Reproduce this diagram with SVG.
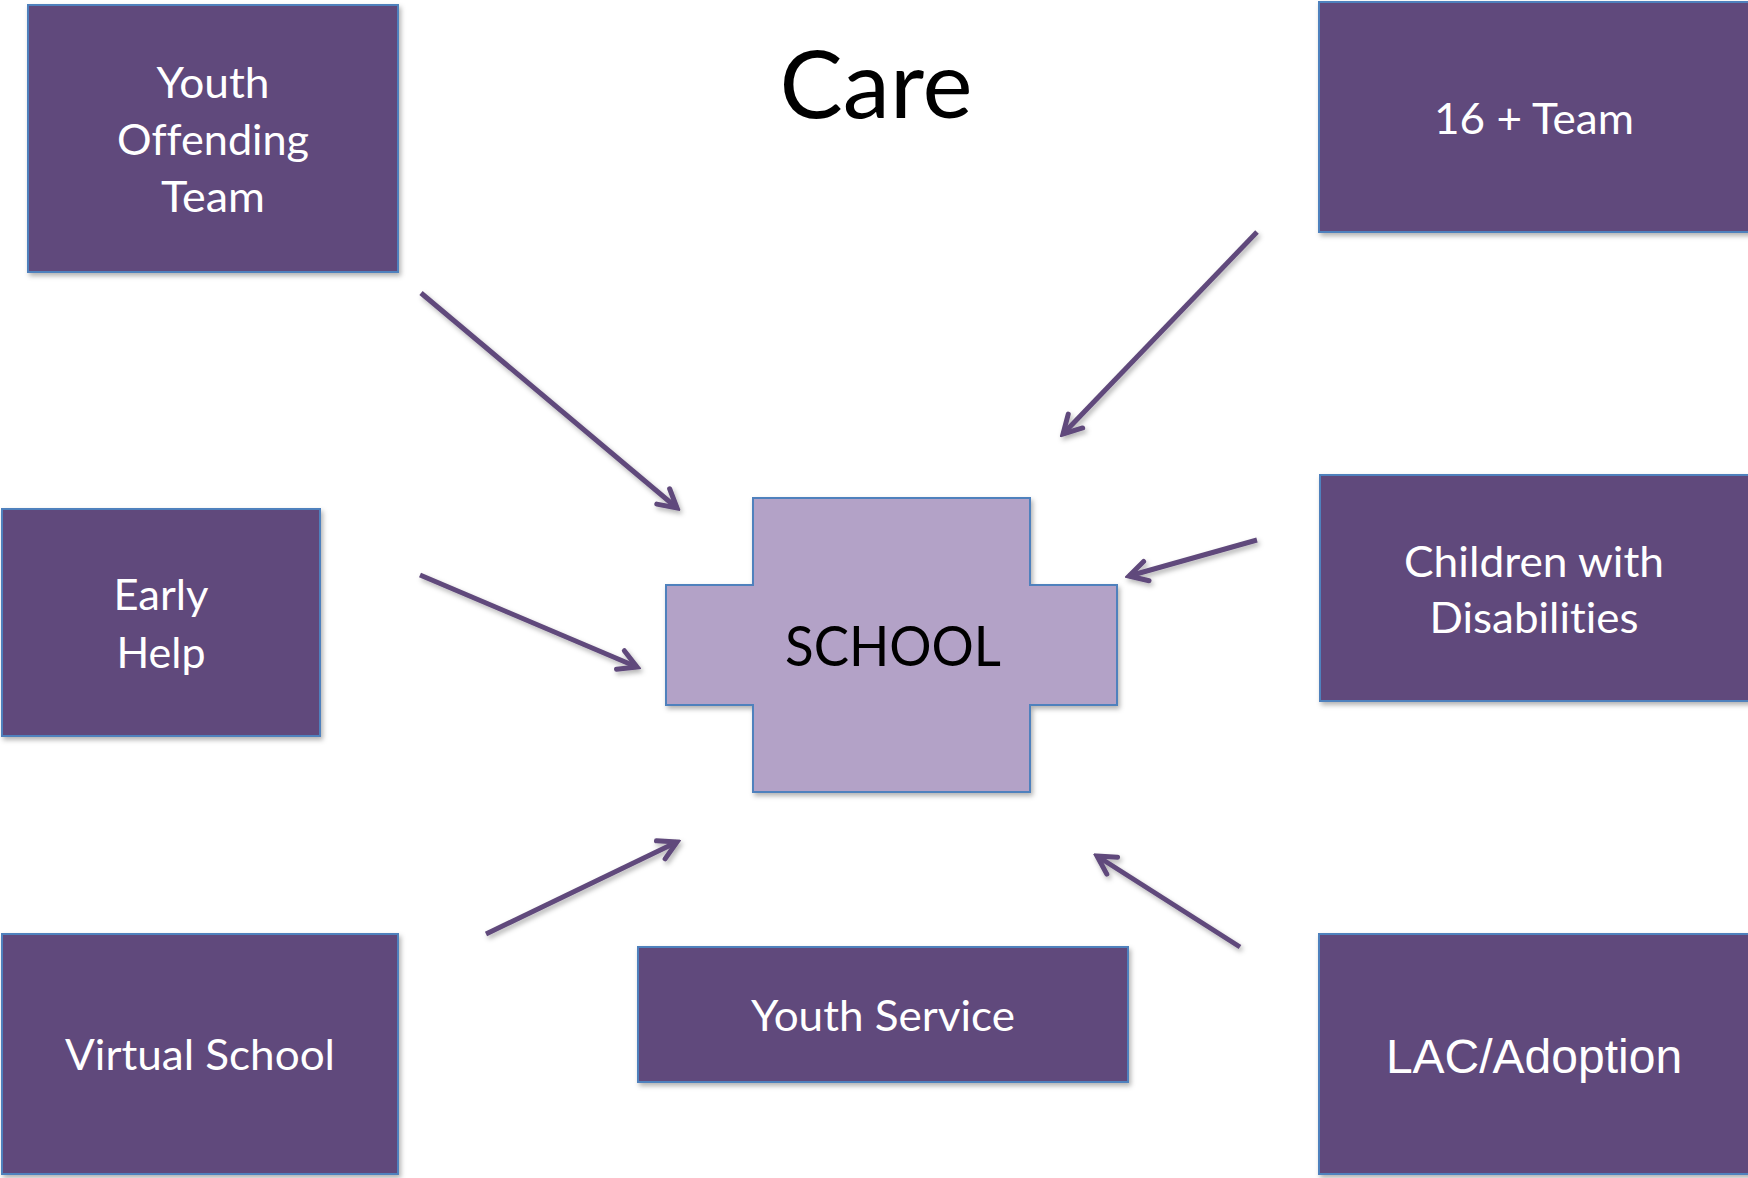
<svg xmlns="http://www.w3.org/2000/svg" width="1748" height="1178" viewBox="0 0 1748 1178">
<style>
text{font-variant-ligatures:none;font-feature-settings:"liga" 0,"clig" 0}
.box{fill:#604A7B;stroke:#4F81BD;stroke-width:2}
.cross{fill:#B3A2C7;stroke:#4F81BD;stroke-width:2}
.lbl{font-family:Lato,"Open Sans",sans-serif;font-size:43px;fill:#FFFFFF;text-anchor:middle}
.arr{stroke:#604A7B;stroke-width:5;fill:none;marker-end:url(#head)}
</style>
<defs>
<filter id="sh" x="-10%" y="-10%" width="130%" height="130%">
<feDropShadow dx="2" dy="3" stdDeviation="2.5" flood-color="#000" flood-opacity="0.3"/>
</filter>
<marker id="head" viewBox="0 0 26 26" refX="22" refY="13" markerUnits="userSpaceOnUse" markerWidth="26" markerHeight="26" orient="auto">
<path d="M4,3 L22,13 L4,23" fill="none" stroke="#604A7B" stroke-width="5" stroke-linecap="round"/>
</marker>
</defs>
<rect width="1748" height="1178" fill="#FFFFFF"/>
<text id="title" x="876" y="118" font-family="Lato,'Open Sans',sans-serif" font-size="93" fill="#000000" text-anchor="middle" textLength="193" lengthAdjust="spacingAndGlyphs">Care</text>
<g id="connectors" filter="url(#sh)">
<line class="arr" x1="421" y1="293" x2="677" y2="508"/>
<line class="arr" x1="1257" y1="232" x2="1063" y2="434"/>
<line class="arr" x1="420" y1="575" x2="637" y2="667"/>
<line class="arr" x1="1257" y1="540" x2="1129" y2="576"/>
<line class="arr" x1="486" y1="934" x2="677" y2="842"/>
<line class="arr" x1="1240" y1="947" x2="1097" y2="856"/>
</g>
<g id="school">
<path class="cross" filter="url(#sh)" d="M753,498 H1030 V585 H1117 V705 H1030 V792 H753 V705 H666 V585 H753 Z"/>
<text x="893" y="666" font-family="Lato,'Open Sans',sans-serif" font-size="57" fill="#000000" text-anchor="middle" textLength="216" lengthAdjust="spacingAndGlyphs">SCHOOL</text>
</g>
<g id="yot">
<rect class="box" filter="url(#sh)" x="28" y="5" width="370" height="267"/>
<text class="lbl" x="213" y="98" textLength="113" lengthAdjust="spacingAndGlyphs">Youth</text>
<text class="lbl" x="213" y="155" textLength="192" lengthAdjust="spacingAndGlyphs">Offending</text>
<text class="lbl" x="213" y="212" textLength="104" lengthAdjust="spacingAndGlyphs">Team</text>
</g>
<g id="team16">
<rect class="box" filter="url(#sh)" x="1319" y="2" width="435" height="230"/>
<text class="lbl" x="1534" y="134" textLength="200" lengthAdjust="spacingAndGlyphs">16 + Team</text>
</g>
<g id="earlyhelp">
<rect class="box" filter="url(#sh)" x="2" y="509" width="318" height="227"/>
<text class="lbl" x="161" y="610" textLength="95" lengthAdjust="spacingAndGlyphs">Early</text>
<text class="lbl" x="161" y="668" textLength="89" lengthAdjust="spacingAndGlyphs">Help</text>
</g>
<g id="cwd">
<rect class="box" filter="url(#sh)" x="1320" y="475" width="435" height="226"/>
<text class="lbl" x="1534" y="577" textLength="260" lengthAdjust="spacingAndGlyphs">Children with</text>
<text class="lbl" x="1534" y="633" textLength="209" lengthAdjust="spacingAndGlyphs">Disabilities</text>
</g>
<g id="virtual">
<rect class="box" filter="url(#sh)" x="2" y="934" width="396" height="240"/>
<text class="lbl" x="200" y="1070" textLength="270" lengthAdjust="spacingAndGlyphs">Virtual School</text>
</g>
<g id="youthservice">
<rect class="box" filter="url(#sh)" x="638" y="947" width="490" height="135"/>
<text class="lbl" x="883" y="1031" textLength="264" lengthAdjust="spacingAndGlyphs">Youth Service</text>
</g>
<g id="lac">
<rect class="box" filter="url(#sh)" x="1319" y="934" width="435" height="240"/>
<text x="1534" y="1073" font-family="'Liberation Sans',Arial,sans-serif" font-size="48" fill="#FFFFFF" text-anchor="middle">LAC/Adoption</text>
</g>
</svg>
